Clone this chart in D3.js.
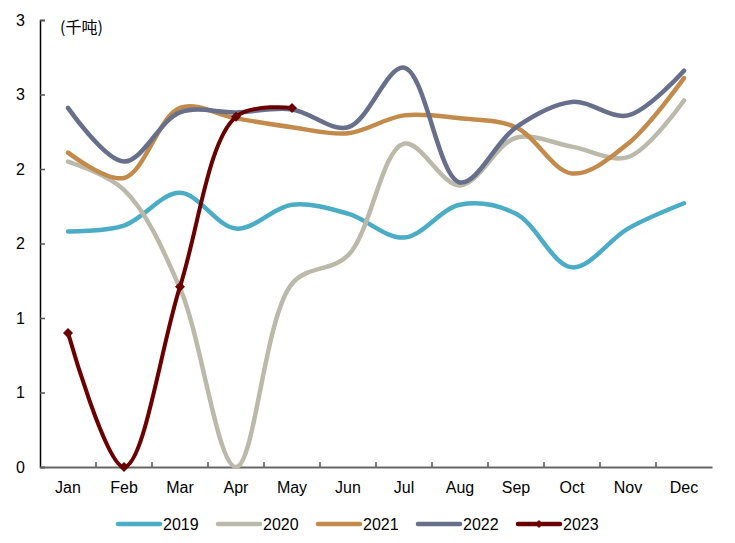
<!DOCTYPE html>
<html>
<head>
<meta charset="utf-8">
<script src="https://cdn.jsdelivr.net/npm/d3@7"></script>
<style>
  body { margin: 0; background: #fff; }
  text { font-family: "Liberation Sans", Arial, sans-serif; }
</style>
</head>
<body>
<script>
  let months = ["Jan","Feb","Mar","Apr","May","Jun","Jul","Aug","Sep","Oct","Nov","Dec"];
  let years = ["2019","2020","2021","2022","2023"];
  let v2019 = [1.58,1.62,1.84,1.60,1.76,1.70,1.54,1.76,1.70,1.34,1.60,1.77];
  let v2020 = [2.05,1.86,1.20,0.00,1.23,1.42,2.17,1.89,2.21,2.15,2.08,2.46];
  let v2021 = [2.11,1.94,2.41,2.34,2.28,2.24,2.36,2.34,2.28,1.97,2.17,2.61];
  let v2022 = [2.41,2.05,2.38,2.38,2.40,2.28,2.68,1.91,2.28,2.45,2.36,2.66];
  let v2023 = [0.90,0.00,1.21,2.35,2.41];
  let yTicks = [0,0.5,1,1.5,2,2.5,3];
  let colors = ["#4bacc6","#bbbaaa","#c28b4b","#676f8b","#6b0000"];

  let width = 735, height = 543;
  let series = [v2019, v2020, v2021, v2022, v2023];

  let svg = d3.select("body").append("svg")
    .attr("width", width).attr("height", height);

  let x = d3.scaleBand().domain(months).range([40, 712]);
  let y = d3.scaleLinear().domain([0, 3]).range([467, 20]);

  // y axis
  let yAxis = svg.append("g").attr("transform", "translate(40,0)")
    .call(d3.axisRight(y).tickValues(yTicks).tickSize(5).tickFormat(d => Math.round(d)));
  yAxis.select(".domain").attr("stroke", "#000").attr("stroke-width", 1.5);
  yAxis.selectAll(".tick line").attr("stroke", "#555").attr("stroke-width", 1.5);
  yAxis.selectAll(".tick text").attr("x", -15).attr("text-anchor", "end")
    .style("font-size", "16px").attr("fill", "#000");

  // x axis
  let xAxis = svg.append("g").attr("transform", "translate(0,467)")
    .call(d3.axisBottom(x).tickSize(0).tickPadding(15));
  xAxis.select(".domain").attr("stroke", "#666").attr("stroke-width", 2);
  xAxis.selectAll(".tick text").style("font-size", "16px").attr("fill", "#000");
  svg.append("g").selectAll("line")
    .data(months.slice(1))
    .enter().append("line")
      .attr("x1", d => x(d)).attr("x2", d => x(d))
      .attr("y1", 467).attr("y2", 462)
      .attr("stroke", "#555").attr("stroke-width", 1.5);

  svg.append("text").text("(千吨)")
    .attr("x", 60).attr("y", 33)
    .style("font-family", "'Noto Sans CJK SC', sans-serif")
    .style("font-size", "16px");

  let line = d3.line()
    .x((d, i) => x(months[i]) + x.bandwidth() / 2)
    .y(d => y(d))
    .curve(d3.curveCatmullRom.alpha(0.5));

  series.forEach((s, k) => {
    svg.append("path")
      .datum(s)
      .attr("d", line)
      .attr("fill", "none")
      .attr("stroke", colors[k])
      .attr("stroke-width", k == 4 ? 4 : 4.5)
      .attr("stroke-linecap", "round");
  });

  // 2023 markers
  svg.append("g").selectAll("path")
    .data(v2023)
    .enter().append("path")
      .attr("d", d3.symbol().type(d3.symbolSquare).size(50))
      .attr("transform", (d, i) => "translate(" + (x(months[i]) + x.bandwidth() / 2) + "," + y(d) + ") rotate(45)")
      .attr("fill", colors[4]);

  // legend
  let legend = svg.append("g").selectAll("g")
    .data(years)
    .enter().append("g")
      .attr("transform", (d, i) => "translate(" + (118 + i * 100) + ",524)");
  legend.append("line")
    .attr("x1", 0).attr("x2", 42).attr("y1", 0).attr("y2", 0)
    .attr("stroke", (d, i) => colors[i])
    .attr("stroke-width", 4.5)
    .attr("stroke-linecap", "round");
  legend.filter((d, i) => i == 4).append("path")
    .attr("d", d3.symbol().type(d3.symbolSquare).size(32))
    .attr("transform", "translate(21,0) rotate(45)")
    .attr("fill", colors[4]);
  legend.append("text").text(d => d)
    .attr("x", 45).attr("y", 6)
    .style("font-size", "16px");
</script>
</body>
</html>
